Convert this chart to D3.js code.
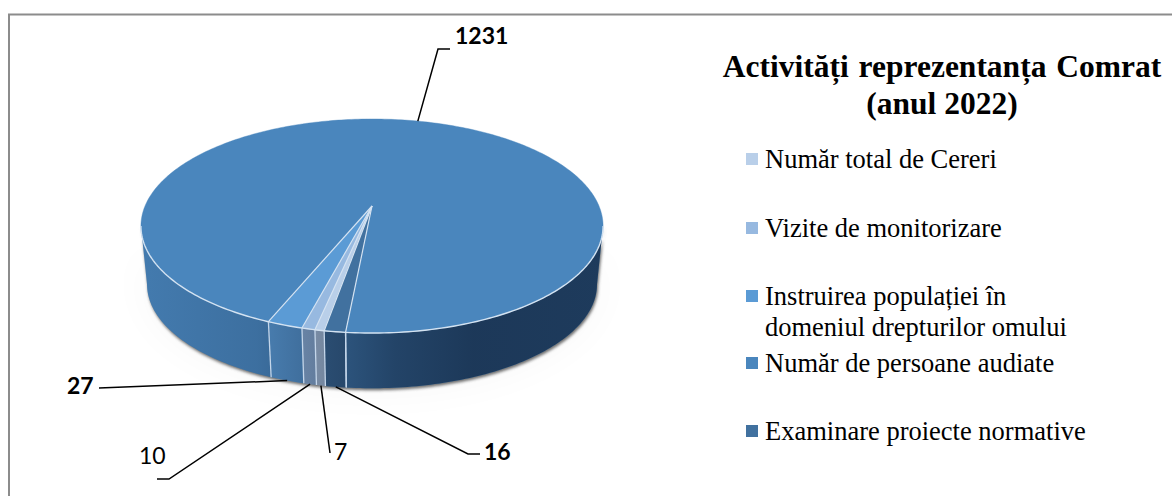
<!DOCTYPE html>
<html><head><meta charset="utf-8">
<script src="https://cdn.jsdelivr.net/npm/d3@7/dist/d3.min.js"></script>
<style>html,body{margin:0;padding:0;background:#fff}svg{display:block}</style></head>
<body><div id="c"></div>
<script>
const categories = ["Număr total de Cereri","Vizite de monitorizare","Instruirea populației în|domeniul drepturilor omului","Număr de persoane audiate","Examinare proiecte normative"];
const values = [7,10,27,1231,16];
const colors = ["#b9cfe9","#97b9e0","#5b9bd5","#4a86bd","#41719f"];
const titleLines = ["Activități reprezentanța Comrat","(anul 2022)"];

const W=1172,H=496;
const svg=d3.select("#c").append("svg").attr("width",W).attr("height",H);
const defs=svg.append("defs");
const g=defs.append("linearGradient").attr("id","wallShade").attr("gradientUnits","userSpaceOnUse")
  .attr("x1",141).attr("x2",603).attr("y1",0).attr("y2",0);
[[0,.10],[.25,.2],[.44,.44],[.55,.58],[.72,.68],[1,.66]].forEach(s=>g.append("stop").attr("offset",s[0]).attr("stop-color","#07142a").attr("stop-opacity",s[1]));
defs.append("filter").attr("id","blur").attr("x","-5%").attr("y","-5%").attr("width","110%").attr("height","110%")
  .append("feGaussianBlur").attr("stdDeviation",1.6);
defs.append("filter").attr("id","blurWide").attr("x","-20%").attr("y","-20%").attr("width","140%").attr("height","140%")
  .append("feGaussianBlur").attr("stdDeviation",22);

// frame
svg.append("path").attr("d",`M9 ${H} V14.5 H${W}`).attr("fill","none").attr("stroke","#8c8c8c").attr("stroke-width",2);

// perspective projection of the pie plane
const rad=d=>d*Math.PI/180;
const k=0.187;
function proj(t,top){
  const u=Math.sin(t),v=-Math.cos(t),s=1/(1-k*v);
  return top?[372+227*u*s,206+103.3*v*s]:[372+221*u*s,265+100.2*v*s];
}
const pie=d3.pie().sort(null).value(d=>d).startAngle(rad(189.9)).endAngle(rad(189.9+360));
const arcs=pie(values);
const line=d3.line();
const steps=(a,b)=>{const n=Math.max(2,Math.ceil((b-a)/rad(1)));return d3.range(n+1).map(i=>a+(b-a)*i/n);};
const apex=[372,206];
const L0=rad(100.8),L1=rad(259.2);
const frontRanges=(a,b)=>{const out=[];[0,2*Math.PI].forEach(o=>{const s=Math.max(a,L0+o),e=Math.min(b,L1+o);if(e>s)out.push([s,e]);});return out;};
const wallPath=(s,e)=>{const A=steps(s,e);return line(A.map(t=>proj(t,true)).concat(A.slice().reverse().map(t=>proj(t,false))))+"Z";};

// faint halo and contact shadow
svg.append("path").attr("d",wallPath(L0,L1)).attr("fill","#000").attr("opacity",.035).attr("filter","url(#blurWide)");
svg.append("path").attr("d",wallPath(L0,L1)).attr("transform","translate(1,2)").attr("fill","#6b6b6b").attr("filter","url(#blur)");

// walls
const walls=svg.append("g");
arcs.forEach((d,i)=>frontRanges(d.startAngle,d.endAngle).forEach(r=>{
  walls.append("path").attr("d",wallPath(r[0],r[1])).attr("fill",colors[i]);
}));
walls.append("path").attr("d",wallPath(L0,L1)).attr("fill","url(#wallShade)");
// seams
arcs.forEach(d=>{
  if(frontRanges(d.startAngle,d.startAngle+1e-3).length)
    walls.append("path").attr("d",line([proj(d.startAngle,true),proj(d.startAngle,false)]))
      .attr("stroke","#c4d6ea").attr("stroke-width",1.3).attr("fill","none");
});
walls.append("path").attr("d",line([proj(arcs[4].startAngle,true),proj(arcs[4].startAngle,false)]))
  .attr("stroke","#c4d6ea").attr("stroke-width",1.3);

// top face
const tops=svg.append("g");
arcs.forEach((d,i)=>{
  const pts=[apex].concat(steps(d.startAngle,d.endAngle).map(t=>proj(t,true)));
  tops.append("path").attr("d",line(pts)+"Z").attr("fill",colors[i]).attr("stroke",colors[i]).attr("stroke-width",.4);
});
// bevel lines
arcs.forEach(d=>{
  tops.append("path").attr("d",line([apex,proj(d.startAngle,true)]))
    .attr("stroke","#d5e3f2").attr("stroke-width",1.2).attr("fill","none");
});
tops.append("path").attr("d",line(steps(L0,L1).map(t=>proj(t,true))))
  .attr("fill","none").attr("stroke","#d3e2f1").attr("stroke-width",1.4);

// leader lines (anchored on the slice mid angle)
const mids=arcs.map(d=>(d.startAngle+d.endAngle)/2);
const leaders=[
 {i:3,top:true,via:[[438,49],[450,49]],x:455,y:44,bold:true},
 {i:2,top:false,via:[[99,388]],x:67,y:394,bold:true},
 {i:1,top:false,via:[[169,479],[157,479]],x:139,y:464,bold:false},
 {i:0,top:false,via:[[330,453]],x:334,y:460,bold:false},
 {i:4,top:false,via:[[468,454],[480,454]],x:484,y:460,bold:true}
];
const lab=svg.append("g").attr("font-family","Lato, Carlito, sans-serif").attr("font-size",23).attr("fill","#000");
leaders.forEach(l=>{
  lab.append("path").attr("d",line([proj(mids[l.i],l.top)].concat(l.via))).attr("fill","none").attr("stroke","#000").attr("stroke-width",1.5);
  lab.append("text").attr("x",l.x).attr("y",l.y).attr("font-weight",l.bold?"700":"400").text(values[l.i]);
});

// title
const title=svg.append("g").attr("font-family","'Liberation Serif',serif").attr("font-weight","700").attr("font-size",31.5).attr("text-anchor","middle").attr("fill","#000");
title.append("text").attr("x",942).attr("y",77).attr("word-spacing",2).text(titleLines[0]);
title.append("text").attr("x",942).attr("y",114).text(titleLines[1]);

// legend
const legendY=[168,237,305,372,440];
const leg=svg.append("g").attr("font-family","'Liberation Serif',serif").attr("font-size",26.5).attr("fill","#000");
categories.forEach((c,i)=>{
  leg.append("rect").attr("x",746).attr("y",legendY[i]-15).attr("width",12).attr("height",12).attr("fill",colors[i]);
  c.split("|").forEach((t,j)=>leg.append("text").attr("x",765).attr("y",legendY[i]+j*31).text(t));
});
</script></body></html>
